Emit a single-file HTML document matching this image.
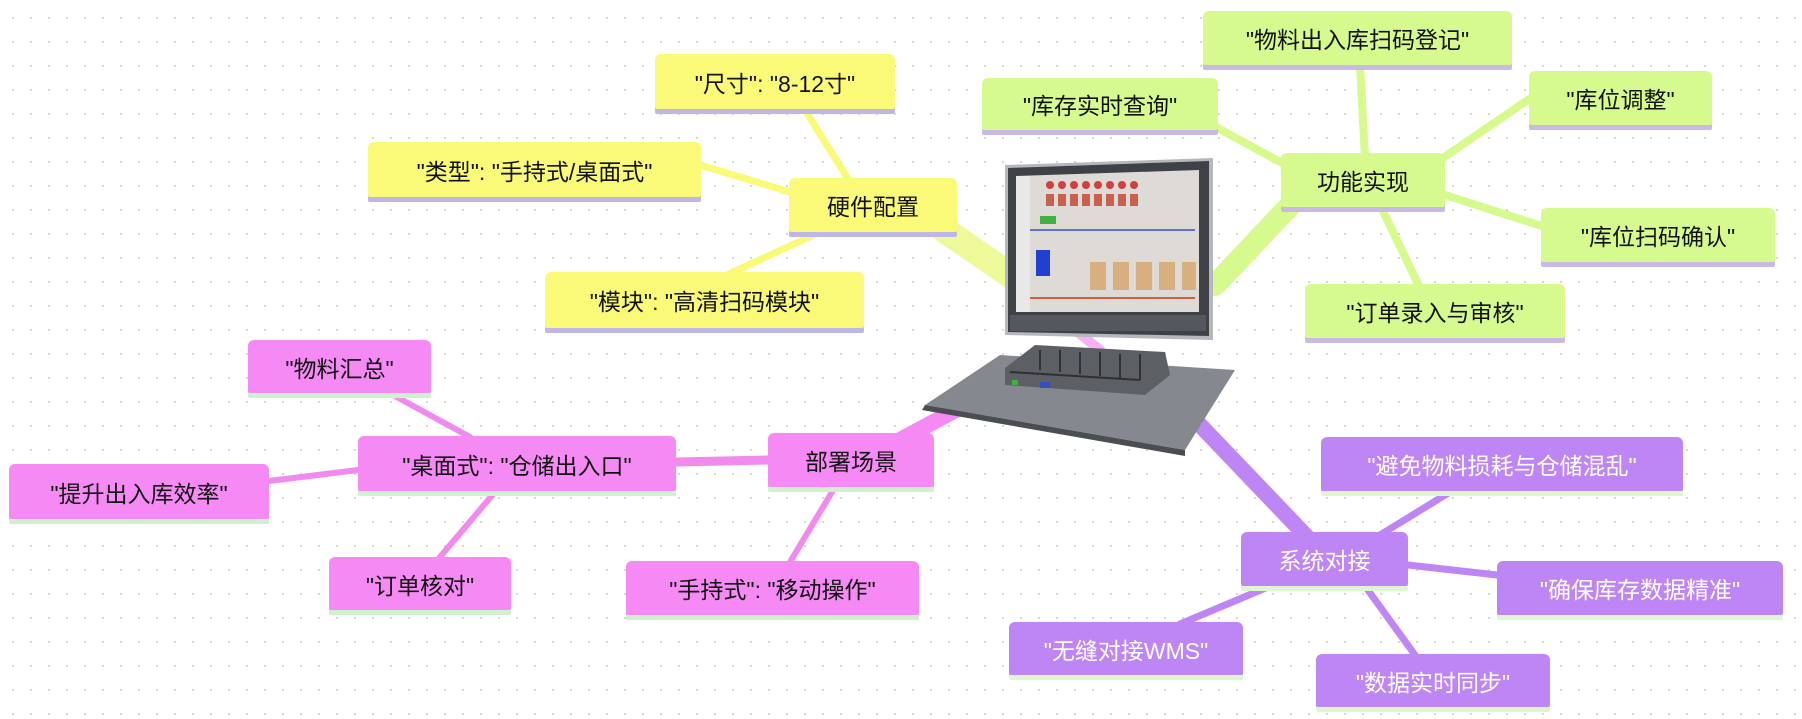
<!DOCTYPE html>
<html><head><meta charset="utf-8"><style>
html,body{margin:0;padding:0;}
body{width:1802px;height:719px;position:relative;overflow:hidden;background:#fff;
background-image:radial-gradient(circle,#d4d4d4 1px,transparent 1.3px);background-size:18px 24px;background-position:4px 6px;
font-family:"Liberation Sans","Noto Sans CJK SC",sans-serif;}
.n{position:absolute;box-sizing:border-box;display:flex;align-items:center;justify-content:center;font-size:23px;border-radius:6px 6px 2px 2px;white-space:nowrap;}
.y{background:#fafa78;color:#111;box-shadow:0 5px 0 #bdb6e6;}
.g{background:#d6fa8e;color:#111;box-shadow:0 5px 0 #c9b9e6;}
.p{background:#f68af4;color:#111;box-shadow:0 5px 0 #cdf2cd;}
.v{background:#be86f4;color:#fff;box-shadow:0 5px 0 #def6d2;}
svg{position:absolute;left:0;top:0;}
</style></head><body>
<svg width="1802" height="719">
<g stroke-linecap="round">
<line x1="930" y1="220" x2="1010" y2="275" stroke="#eefa9a" stroke-width="26"/>
<line x1="1300" y1="195" x2="1215" y2="285" stroke="#d6fa8e" stroke-width="22"/>
<line x1="900" y1="440" x2="965" y2="405" stroke="#f68af4" stroke-width="16"/>
<line x1="1310" y1="540" x2="1200" y2="425" stroke="#be86f4" stroke-width="16"/>
<line x1="1075" y1="330" x2="1100" y2="350" stroke="#f6b0f4" stroke-width="10"/>
<g stroke="#fafa78" stroke-width="7">
<line x1="805" y1="110" x2="855" y2="190"/>
<line x1="700" y1="165" x2="800" y2="195"/>
<line x1="720" y1="278" x2="820" y2="232"/>
</g>
<g stroke="#d6fa8e" stroke-width="8">
<line x1="1360" y1="66" x2="1365" y2="158"/>
<line x1="1212" y1="125" x2="1295" y2="170"/>
<line x1="1535" y1="95" x2="1440" y2="160"/>
<line x1="1548" y1="228" x2="1445" y2="195"/>
<line x1="1420" y1="288" x2="1380" y2="205"/>
</g>
<g stroke="#f08aec" stroke-width="6">
<line x1="676" y1="462" x2="768" y2="460" stroke-width="9"/>
<line x1="395" y1="396" x2="470" y2="437"/>
<line x1="269" y1="481" x2="358" y2="470"/>
<line x1="440" y1="557" x2="495" y2="492"/>
<line x1="790" y1="562" x2="835" y2="487"/>
</g>
<g stroke="#be86f4" stroke-width="7">
<line x1="1450" y1="492" x2="1380" y2="535"/>
<line x1="1497" y1="575" x2="1408" y2="565"/>
<line x1="1180" y1="624" x2="1268" y2="587"/>
<line x1="1415" y1="655" x2="1365" y2="586"/>
</g>
</g>
<!-- monitor -->
<g>
<polygon points="1005,165 1213,158 1213,340 1005,335" fill="#b4b8bc"/>
<polygon points="1008,168 1209,161 1209,336 1008,332" fill="#3e4247"/>
<polygon points="1016,176 1199,170 1199,312 1016,312" fill="#dedad6"/>
<rect x="1016" y="176" width="14" height="136" fill="#e8e8e8"/>
<g fill="#d04040"><circle cx="1050" cy="185" r="4"/><circle cx="1062" cy="185" r="4"/><circle cx="1074" cy="185" r="4"/><circle cx="1086" cy="185" r="4"/><circle cx="1098" cy="185" r="4"/><circle cx="1110" cy="185" r="4"/><circle cx="1122" cy="185" r="4"/><circle cx="1134" cy="185" r="4"/></g>
<g fill="#c86050"><rect x="1046" y="194" width="8" height="12"/><rect x="1058" y="194" width="8" height="12"/><rect x="1070" y="194" width="8" height="12"/><rect x="1082" y="194" width="8" height="12"/><rect x="1094" y="194" width="8" height="12"/><rect x="1106" y="194" width="8" height="12"/><rect x="1118" y="194" width="8" height="12"/><rect x="1130" y="194" width="8" height="12"/></g>
<g fill="#d8b080"><rect x="1090" y="262" width="16" height="28"/><rect x="1113" y="262" width="16" height="28"/><rect x="1136" y="262" width="16" height="28"/><rect x="1159" y="262" width="16" height="28"/><rect x="1182" y="262" width="14" height="28"/></g>
<rect x="1036" y="250" width="14" height="26" fill="#2040d0"/>
<rect x="1040" y="216" width="16" height="8" fill="#40b040"/>
<line x1="1030" y1="230" x2="1195" y2="230" stroke="#6070d0" stroke-width="2"/>
<line x1="1030" y1="298" x2="1195" y2="298" stroke="#d06040" stroke-width="2"/>
<rect x="1010" y="315" width="196" height="16" fill="#54585e"/>
<!-- base -->
<polygon points="925,405 1000,355 1235,370 1185,450" fill="#85898f"/>
<polygon points="925,405 1185,450 1185,456 922,410" fill="#4a4d52"/>
<polygon points="1005,368 1035,345 1165,352 1170,375 1145,395 1005,385" fill="#5c5f64"/>
<g stroke="#2e3034" stroke-width="2">
<line x1="1010" y1="372" x2="1140" y2="380"/>
<line x1="1040" y1="350" x2="1040" y2="370"/><line x1="1060" y1="350" x2="1060" y2="372"/><line x1="1080" y1="352" x2="1080" y2="374"/><line x1="1100" y1="352" x2="1100" y2="376"/><line x1="1120" y1="354" x2="1120" y2="378"/><line x1="1140" y1="354" x2="1140" y2="380"/>
</g>
<rect x="1040" y="382" width="10" height="6" fill="#3050c0"/>
<rect x="1012" y="380" width="6" height="5" fill="#40b040"/>
</g>
</svg>
<div class="n g" style="left:1203px;top:11px;width:309px;height:54px;">"物料出入库扫码登记"</div>
<div class="n g" style="left:982px;top:78px;width:236px;height:52px;">"库存实时查询"</div>
<div class="n g" style="left:1529px;top:71px;width:183px;height:54px;">"库位调整"</div>
<div class="n g" style="left:1281px;top:153px;width:164px;height:54px;">功能实现</div>
<div class="n g" style="left:1541px;top:208px;width:234px;height:54px;">"库位扫码确认"</div>
<div class="n g" style="left:1305px;top:284px;width:260px;height:54px;">"订单录入与审核"</div>
<div class="n y" style="left:655px;top:54px;width:240px;height:55px;">"尺寸": "8-12寸"</div>
<div class="n y" style="left:368px;top:142px;width:333px;height:55px;">"类型": "手持式/桌面式"</div>
<div class="n y" style="left:789px;top:178px;width:168px;height:54px;">硬件配置</div>
<div class="n y" style="left:545px;top:272px;width:319px;height:56px;">"模块": "高清扫码模块"</div>
<div class="n p" style="left:248px;top:340px;width:183px;height:53px;">"物料汇总"</div>
<div class="n p" style="left:358px;top:436px;width:318px;height:55px;">"桌面式": "仓储出入口"</div>
<div class="n p" style="left:768px;top:433px;width:166px;height:54px;">部署场景</div>
<div class="n p" style="left:9px;top:464px;width:260px;height:55px;">"提升出入库效率"</div>
<div class="n p" style="left:329px;top:557px;width:182px;height:53px;">"订单核对"</div>
<div class="n p" style="left:626px;top:561px;width:293px;height:54px;">"手持式": "移动操作"</div>
<div class="n v" style="left:1321px;top:437px;width:362px;height:54px;">"避免物料损耗与仓储混乱"</div>
<div class="n v" style="left:1241px;top:532px;width:167px;height:54px;">系统对接</div>
<div class="n v" style="left:1497px;top:561px;width:286px;height:54px;">"确保库存数据精准"</div>
<div class="n v" style="left:1009px;top:622px;width:234px;height:53px;">"无缝对接WMS"</div>
<div class="n v" style="left:1316px;top:654px;width:234px;height:53px;">"数据实时同步"</div>
</body></html>
